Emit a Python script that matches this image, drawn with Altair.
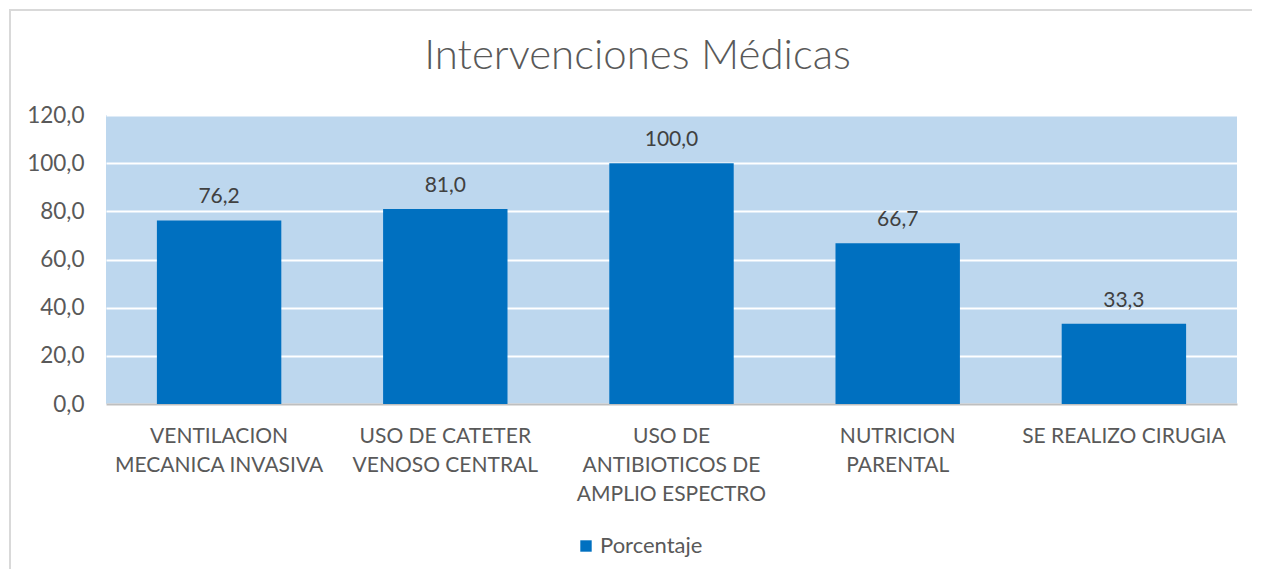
import altair as alt
import pandas as pd

categorias = [
    "VENTILACION MECANICA INVASIVA",
    "USO DE CATETER VENOSO CENTRAL",
    "USO DE ANTIBIOTICOS DE AMPLIO ESPECTRO",
    "NUTRICION PARENTAL",
    "SE REALIZO CIRUGIA",
]
etiquetas = [
    ["VENTILACION", "MECANICA INVASIVA"],
    ["USO DE CATETER", "VENOSO CENTRAL"],
    ["USO DE", "ANTIBIOTICOS DE", "AMPLIO ESPECTRO"],
    ["NUTRICION", "PARENTAL"],
    ["SE REALIZO CIRUGIA"],
]
porcentaje = [76.2, 81.0, 100.0, 66.7, 33.3]
serie = "Porcentaje"
titulo = "Intervenciones Médicas"
y_ticks = [0, 20, 40, 60, 80, 100, 120]

df = pd.DataFrame({"cat": categorias, "v": porcentaje, "serie": [serie] * len(categorias)})

expr_parts = []
for c, l in zip(categorias, etiquetas):
    arr = "[" + ",".join("'" + s + "'" for s in l) + "]"
    expr_parts.append(f"datum.value == '{c}' ? {arr}")
x_label_expr = " : ".join(expr_parts) + " : datum.value"

FONT = "Lato"
TXT = "#595959"

x_enc = alt.X(
    "cat:N",
    sort=categorias,
    scale=alt.Scale(paddingInner=0.45, paddingOuter=0.225),
    axis=alt.Axis(
        title=None,
        labelAngle=0,
        labelExpr=x_label_expr,
        labelFont=FONT,
        labelFontSize=21,
        labelColor=TXT,
        labelLineHeight=29,
        labelPadding=21,
        labelBaseline="top",
        labelLimit=0,
        ticks=False,
        domain=True,
        domainColor="#BFBFBF",
        domainWidth=2,
        grid=False,
    ),
)

bars = alt.Chart(df).mark_bar(color="#0070C0").encode(
    x=x_enc,
    y=alt.Y(
        "v:Q",
        scale=alt.Scale(domain=[0, 120], nice=False),
        axis=alt.Axis(
            title=None,
            values=y_ticks,
            labelExpr="replace(format(datum.value, '.1f'), '.', ',')",
            labelFont=FONT,
            labelFontSize=22.5,
            labelColor=TXT,
            labelPadding=22,
            ticks=False,
            domain=False,
            grid=True,
            gridColor="white",
            gridWidth=2,
        ),
    ),
    color=alt.Color(
        "serie:N",
        scale=alt.Scale(domain=[serie], range=["#0070C0"]),
        legend=alt.Legend(
            title=None,
            orient="none",
            legendX=469,
            legendY=420,
            symbolType="square",
            symbolSize=130,
            symbolStrokeWidth=0,
            labelFont=FONT,
            labelFontSize=22,
            labelColor=TXT,
            labelOffset=3,
            labelLimit=0,
            padding=0,
        ),
    ),
)

labels = alt.Chart(df).transform_calculate(
    lab="replace(format(datum.v, '.1f'), '.', ',')"
).mark_text(font=FONT, fontSize=21, color="#404040", baseline="alphabetic", dy=-17).encode(
    x=alt.X("cat:N", sort=categorias),
    y="v:Q",
    text="lab:N",
)

frame = alt.Chart(df.head(1)).mark_rect(fill="transparent", stroke="#D9D9D9", strokeWidth=2).encode(
    x=alt.value(-96), x2=alt.value(1300), y=alt.value(-105), y2=alt.value(600)
)

title_mark = alt.Chart(pd.DataFrame({"t": [titulo]})).mark_text(
    font=FONT, fontSize=42, fontWeight=300, color=TXT, align="center", baseline="alphabetic"
).encode(x=alt.value(531.5), y=alt.value(-46), text="t:N")

chart = (
    alt.layer(frame, bars, labels, title_mark)
    .properties(
        width=1131,
        height=289,
        autosize=alt.AutoSizeParams(type="none"),
        padding={"left": 98, "top": 107, "right": 15, "bottom": 165},
        background="white",
    )
    .configure_view(fill="#BDD7EE", strokeWidth=0)
)

chart.save("out.html", embed_options={"renderer": "svg", "actions": False})
